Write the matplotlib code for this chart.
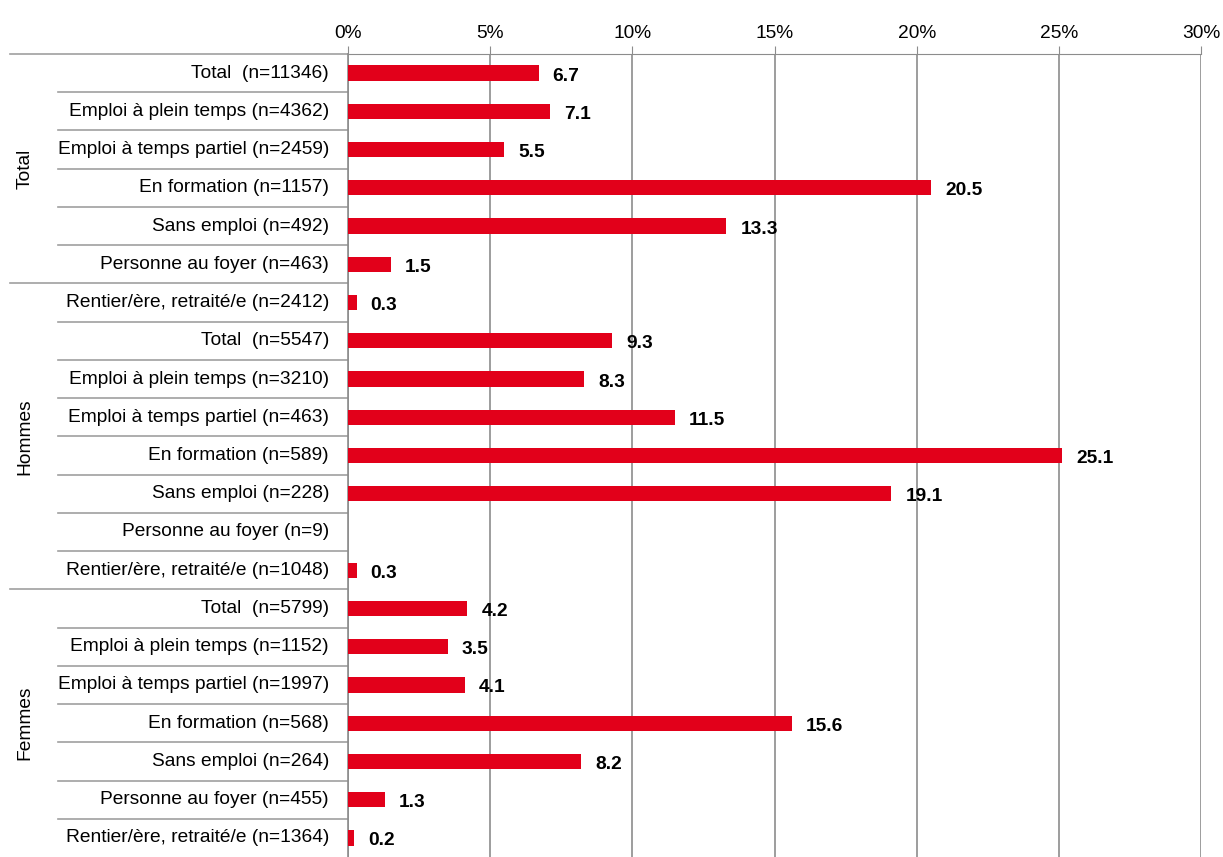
import numpy as np
import matplotlib.pyplot as plt
from matplotlib.transforms import blended_transform_factory

plt.rcParams['font.family'] = ['Liberation Sans Narrow', 'Liberation Sans', 'DejaVu Sans']

# Data ---
groups = ['Total', 'Hommes', 'Femmes']
labels = [
    'Total  (n=11346)', 'Emploi à plein temps (n=4362)', 'Emploi à temps partiel (n=2459)',
    'En formation (n=1157)', 'Sans emploi (n=492)', 'Personne au foyer (n=463)',
    'Rentier/ère, retraité/e (n=2412)',
    'Total  (n=5547)', 'Emploi à plein temps (n=3210)', 'Emploi à temps partiel (n=463)',
    'En formation (n=589)', 'Sans emploi (n=228)', 'Personne au foyer (n=9)',
    'Rentier/ère, retraité/e (n=1048)',
    'Total  (n=5799)', 'Emploi à plein temps (n=1152)', 'Emploi à temps partiel (n=1997)',
    'En formation (n=568)', 'Sans emploi (n=264)', 'Personne au foyer (n=455)',
    'Rentier/ère, retraité/e (n=1364)',
]
values_total = [6.7, 7.1, 5.5, 20.5, 13.3, 1.5, 0.3]
values_hommes = [9.3, 8.3, 11.5, 25.1, 19.1, np.nan, 0.3]
values_femmes = [4.2, 3.5, 4.1, 15.6, 8.2, 1.3, 0.2]
xticks = [0, 5, 10, 15, 20, 25, 30]

values = values_total + values_hommes + values_femmes
# group spans as drawn in the original (row boundaries)
group_spans = [(0, 6), (6, 14), (14, 21)]

W, H = 1223, 857
RED = '#e2001a'
GRID = '#8c8c8c'
SEP = '#a0a0a0'
FS = 13.8

fig = plt.figure(figsize=(W / 100, H / 100), dpi=100)
ax = fig.add_axes([348 / W, 0, (1201 - 348) / W, 1 - 54 / H])

y = np.arange(len(values))
ax.barh(y, values, height=0.4, color=RED, zorder=3)
ax.set_ylim(len(values) - 0.5, -0.5)
ax.set_xlim(0, 30)

for yi, v in zip(y, values):
    if not np.isnan(v):
        ax.text(v + 0.5, yi + 0.08, f'{v:.1f}', va='center', ha='left',
                fontsize=FS, fontweight='bold', zorder=4)

# axes styling
ax.xaxis.tick_top()
ax.set_xticks(xticks)
ax.set_xticklabels([f'{t}%' for t in xticks], fontsize=FS)
ax.tick_params(axis='x', length=6, color=GRID, pad=3)
ax.set_yticks([])
ax.grid(axis='x', color=GRID, linewidth=1.2, zorder=0)
for s in ['bottom', 'right']:
    ax.spines[s].set_visible(False)
ax.spines['top'].set_color(GRID)
ax.spines['left'].set_color(GRID)
ax.spines['left'].set_linewidth(1.2)

# category labels and separators in the left area
tr = blended_transform_factory(fig.transFigure, ax.transData)
for yi, lab in zip(y, labels):
    ax.text(329 / W, yi, lab, transform=tr, ha='right', va='center', fontsize=FS)

long_bounds = {start for start, _ in group_spans}
for b in range(1, len(values)):
    x0 = 10 / W if b in long_bounds else 58 / W
    ax.plot([x0, 348 / W], [b - 0.5, b - 0.5], transform=tr, color=SEP,
            linewidth=1.2, clip_on=False)
ax.plot([10 / W, 348 / W], [-0.5, -0.5], transform=tr, color=SEP,
        linewidth=1.2, clip_on=False)

for g, (a, b) in zip(groups, group_spans):
    ax.text(25 / W, (a + b - 1) / 2, g, transform=tr, rotation=90,
            ha='center', va='center', fontsize=FS)

fig.savefig('out.png', dpi=100)
